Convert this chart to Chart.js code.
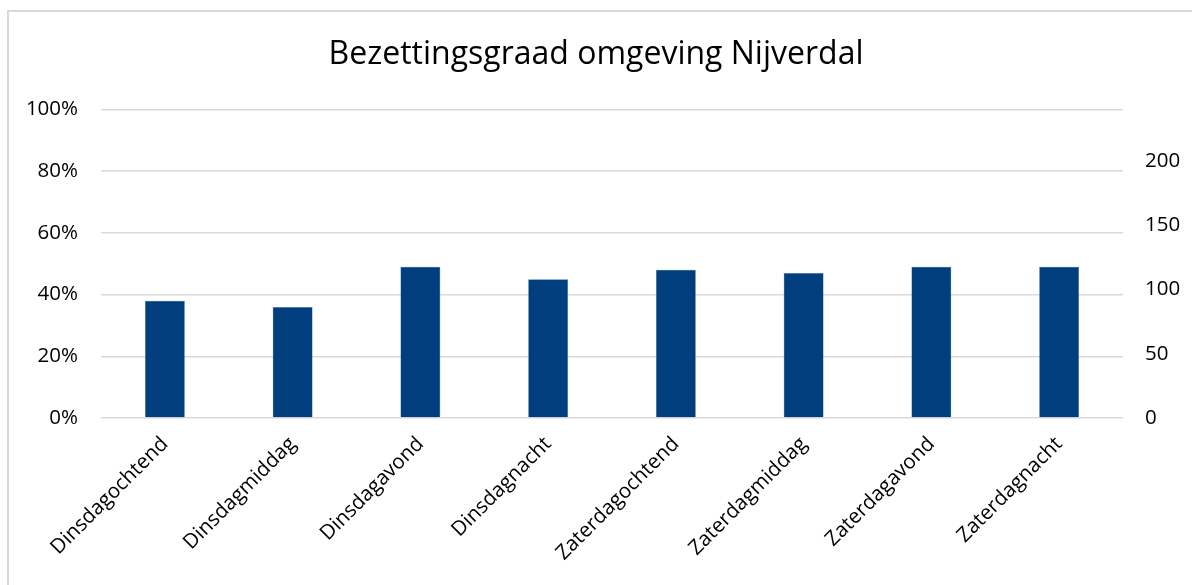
<!DOCTYPE html>
<html>
<head>
<meta charset="utf-8">
<script src="https://cdn.jsdelivr.net/npm/chart.js@4.4.1/dist/chart.umd.min.js"></script>
<style>
  html, body { margin: 0; padding: 0; background: #fff; overflow: hidden; }
  #frame { position: absolute; left: 7px; top: 10px; width: 1200px; height: 600px; border: 2px solid #d9d9d9; box-sizing: border-box; }
  #chart { position: absolute; left: 0; top: 0; }
</style>
</head>
<body>
<div id="frame"></div>
<canvas id="chart" width="1192" height="585"></canvas>
<script>
const categories = ['Dinsdagochtend', 'Dinsdagmiddag', 'Dinsdagavond', 'Dinsdagnacht',
  'Zaterdagochtend', 'Zaterdagmiddag', 'Zaterdagavond', 'Zaterdagnacht'];
const occupancy = [38, 36, 49, 45, 48, 47, 49, 49];
const leftTicks = [0, 100, 20];   // min, max, step (%)
const rightTicks = [0, 240, 50];  // min, max, step

const font = "'Open Sans', sans-serif";
const ctx = document.getElementById('chart').getContext('2d');

new Chart(ctx, {
  type: 'bar',
  data: {
    labels: categories,
    datasets: [{
      label: 'Bezettingsgraad',
      data: occupancy,
      backgroundColor: '#003e7e',
      borderColor: '#4a78b0',
      borderWidth: 0.5,
      barPercentage: 0.3125,
      categoryPercentage: 1,
      yAxisID: 'y'
    }]
  },
  options: {
    responsive: false,
    animation: false,
    layout: { padding: 0 },
    plugins: {
      legend: { display: false },
      tooltip: { enabled: false },
      title: {
        display: true,
        text: 'Bezettingsgraad omgeving Nijverdal',
        color: '#000',
        font: { family: font, size: 32, weight: 'normal' },
        padding: { top: 36, bottom: 35 }
      }
    },
    scales: {
      x: {
        grid: { display: false, drawTicks: false },
        border: { display: false },
        ticks: {
          color: '#000',
          font: { family: font, size: 20.5 },
          minRotation: 45,
          maxRotation: 45,
          padding: 14,
          autoSkip: false
        },
        afterFit: axis => { axis.height = 167; }
      },
      y: {
        position: 'left',
        min: leftTicks[0],
        max: leftTicks[1],
        grid: { color: '#d9d9d9', lineWidth: 1.5, drawTicks: false },
        border: { display: false },
        ticks: {
          stepSize: leftTicks[2],
          color: '#000',
          font: { family: font, size: 20.5 },
          padding: 23,
          callback: v => v + '%'
        },
        afterFit: axis => { axis.width = 101; }
      },
      y1: {
        position: 'right',
        min: rightTicks[0],
        max: rightTicks[1],
        grid: { display: false, drawTicks: false },
        border: { display: false },
        ticks: {
          stepSize: rightTicks[2],
          color: '#000',
          font: { family: font, size: 20.5 },
          padding: 22
        },
        afterBuildTicks: axis => { axis.ticks = axis.ticks.filter(t => t.value % rightTicks[2] === 0); },
        afterFit: axis => { axis.width = 69; }
      }
    }
  }
});
</script>
</body>
</html>
